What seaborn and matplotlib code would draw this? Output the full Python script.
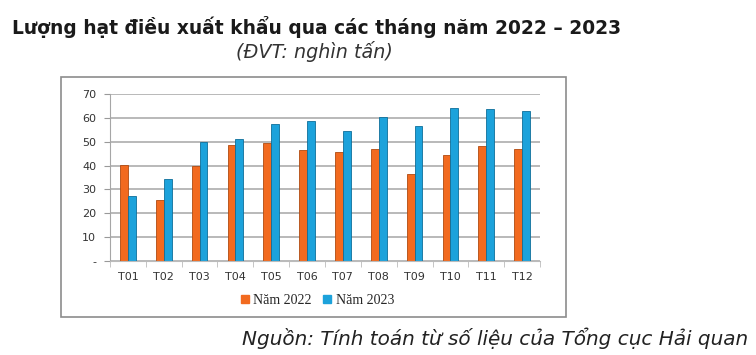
import pandas as pd
import matplotlib.pyplot as plt
import seaborn as sns
from matplotlib.patches import Rectangle

# Dữ liệu (nghìn tấn)
thang = ["T01", "T02", "T03", "T04", "T05", "T06", "T07", "T08", "T09", "T10", "T11", "T12"]
nam_2022 = [40.3, 25.6, 40.0, 48.6, 49.3, 46.4, 45.7, 47.0, 36.4, 44.4, 48.0, 47.0]
nam_2023 = [27.3, 34.2, 49.8, 51.3, 57.4, 58.8, 54.5, 60.4, 56.6, 64.0, 63.7, 62.7]
ten_nam = ["Năm 2022", "Năm 2023"]
mau = ["#F26A1F", "#1CA2DB"]
y_ticks = [0, 10, 20, 30, 40, 50, 60, 70]
y_labels = ["-", "10", "20", "30", "40", "50", "60", "70"]

df = pd.DataFrame({
    "thang": thang * 2,
    "gia_tri": nam_2022 + nam_2023,
    "nam": [ten_nam[0]] * 12 + [ten_nam[1]] * 12,
})

sns.set_style("white")
fig = plt.figure(figsize=(7.56, 3.55), dpi=100)

# khung quanh biểu đồ
fig.patches.append(Rectangle((61 / 756, 1 - 317 / 355), 505 / 756, 240 / 355,
                             transform=fig.transFigure, fill=False,
                             edgecolor="#8C8C8C", linewidth=1.2))

ax = fig.add_axes([110 / 756, 1 - 261 / 355, 430 / 756, 167 / 355])
sns.barplot(data=df, x="thang", y="gia_tri", hue="nam", palette=mau, saturation=1,
            width=0.44, edgecolor="#B04A10", linewidth=0.6, ax=ax, legend=False)
for bar in ax.patches[12:]:
    bar.set_edgecolor("#0E6E9A")

ax.set_ylim(0, 70)
ax.set_xlim(-0.5, 11.5)
ax.set_yticks(y_ticks)
ax.set_yticklabels(y_labels, fontsize=8, color="#333333")
ax.set_xticks(range(12), thang)
ax.tick_params(axis="x", length=0, labelsize=8, labelcolor="#333333", pad=8)
ax.tick_params(axis="y", length=4, color="#999999", pad=6, left=True)
ax.set_xticks([i + 0.5 for i in range(-1, 12)], minor=True)
ax.tick_params(axis="x", which="minor", length=4, color="#BBBBBB", bottom=True)
ax.yaxis.grid(True, color="#A6A6A6", linewidth=1.1)
ax.set_axisbelow(True)
ax.set_xlabel("")
ax.set_ylabel("")
for s in ["top", "right"]:
    ax.spines[s].set_visible(False)
ax.spines["left"].set_color("#A6A6A6")
ax.spines["bottom"].set_color("#BBBBBB")

# chú giải
handles = [plt.Line2D([], [], marker="s", linestyle="", color=c, markersize=5.5) for c in mau]
fig.legend(handles, ten_nam, loc="center", bbox_to_anchor=(316 / 756, 1 - 300 / 355),
           ncol=2, frameon=False, handletextpad=0.1, columnspacing=0.6, handlelength=1.0,
           prop={"family": "Liberation Serif", "size": 10})

fig.text(12 / 756, 1 - 27 / 355, "Lượng hạt điều xuất khẩu qua các tháng năm 2022 – 2023",
         fontsize=13.4, fontweight="bold", family="DejaVu Sans", color="#1A1A1A", va="center")
fig.text(314 / 756, 1 - 52 / 355, "(ĐVT: nghìn tấn)", fontsize=13.8, style="italic",
         family="DejaVu Sans", color="#333333", va="center", ha="center")
fig.text(748 / 756, 1 - 338 / 355, "Nguồn: Tính toán từ số liệu của Tổng cục Hải quan",
         fontsize=14.4, style="italic", family="DejaVu Sans", color="#222222",
         va="center", ha="right")

fig.savefig("out.png", dpi=100)
